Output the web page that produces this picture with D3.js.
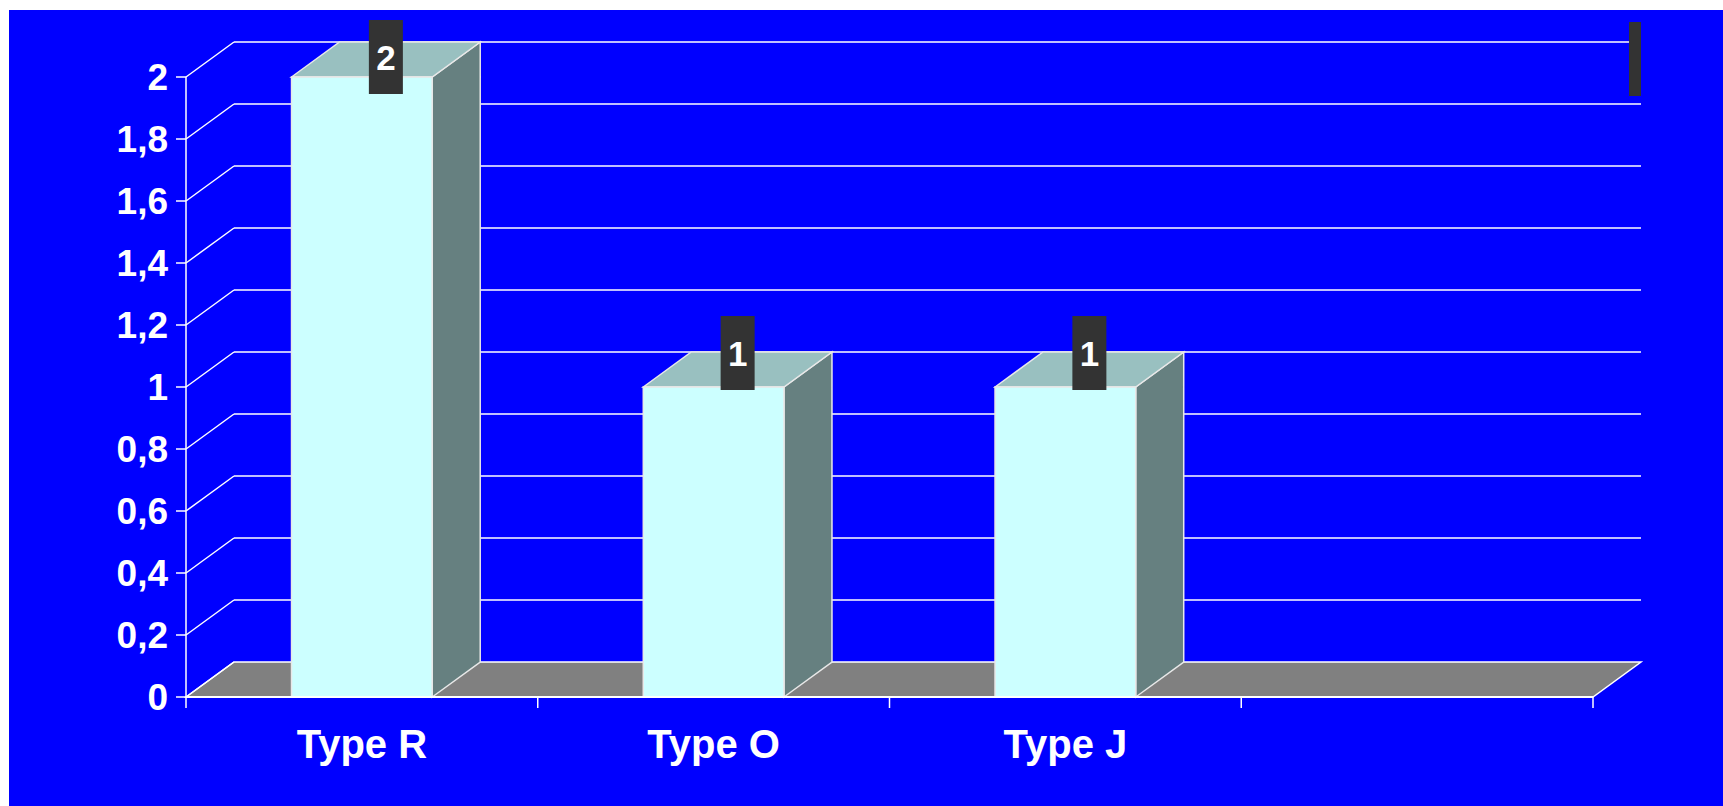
<!DOCTYPE html>
<html>
<head>
<meta charset="utf-8">
<script src="https://cdn.jsdelivr.net/npm/d3@7"></script>
<style>
  html, body { margin: 0; padding: 0; background: #fff; overflow: hidden; }
  text { font-family: "Liberation Sans", Arial, sans-serif; font-weight: bold; fill: #fff; }
</style>
</head>
<body>
<svg id="chart" width="1723" height="806"></svg>
<script>
// chart data
const categories = ["Type R", "Type O", "Type J", ""];
const values = [2, 1, 1, null];
const yTicks = [0, 0.2, 0.4, 0.6, 0.8, 1, 1.2, 1.4, 1.6, 1.8, 2];

const width = 1723, height = 806;
const dx = 48, dy = 35;   // depth offset of the 3d look

const svg = d3.select("#chart");

// blue panel
svg.append("rect").attr("x", 9).attr("y", 10)
    .attr("width", width - 9).attr("height", height - 10)
    .attr("fill", "#0000ff");

const x = d3.scaleBand().domain(categories).range([186, 1593]);
const y = d3.scaleLinear().domain([0, 2]).range([697, 77]);

const locale = d3.formatLocale({ decimal: ",", thousands: " ", grouping: [3], currency: ["", ""] });
const fmt = locale.format("~g");

const x0 = x.range()[0], x1 = x.range()[1];

// floor
svg.append("polygon")
    .attr("points", [[x0, y(0)], [x0 + dx, y(0) - dy], [x1 + dx, y(0) - dy], [x1, y(0)]].join(" "))
    .attr("fill", "#808080").attr("stroke", "#fff").attr("stroke-width", 1.5);

// gridlines on back wall + diagonals on left wall
const grid = svg.append("g");
yTicks.forEach(t => {
    if (t > 0) {
        grid.append("line")
            .attr("x1", x0 + dx).attr("x2", x1 + dx)
            .attr("y1", y(t) - dy).attr("y2", y(t) - dy)
            .attr("stroke", "#fff").attr("stroke-width", 1.5);
    }
    grid.append("line")
        .attr("x1", x0).attr("y1", y(t))
        .attr("x2", x0 + dx).attr("y2", y(t) - dy)
        .attr("stroke", "#fff").attr("stroke-width", 1.5);
});

// y axis
const yAxis = svg.append("g");
yAxis.append("line").attr("x1", x0).attr("x2", x0).attr("y1", y(0)).attr("y2", y(2))
    .attr("stroke", "#fff").attr("stroke-width", 1.5);
yTicks.forEach(t => {
    yAxis.append("line").attr("x1", x0 - 10).attr("x2", x0).attr("y1", y(t)).attr("y2", y(t))
        .attr("stroke", "#fff").attr("stroke-width", 1.5);
    yAxis.append("text").attr("x", 168).attr("y", y(t)).attr("dy", "0.36em")
        .attr("text-anchor", "end").style("font-size", "37px")
        .text(fmt(t));
});

// bars
const bw = x.bandwidth() * 0.4;
const bars = svg.append("g").selectAll("g")
    .data(categories.map((c, i) => ({ c, v: values[i] })).filter(d => d.v != null))
    .join("g");

bars.each(function (d) {
    const g = d3.select(this);
    const bx = x(d.c) + (x.bandwidth() - bw) / 2;
    const top = y(d.v), base = y(0);
    g.append("polygon")   // side
        .attr("points", [[bx + bw, base], [bx + bw + dx, base - dy], [bx + bw + dx, top - dy], [bx + bw, top]].join(" "))
        .attr("fill", "#668080").attr("stroke", "#e8e8e8").attr("stroke-width", 1.5);
    g.append("polygon")   // top
        .attr("points", [[bx, top], [bx + dx, top - dy], [bx + bw + dx, top - dy], [bx + bw, top]].join(" "))
        .attr("fill", "#99c0c0").attr("stroke", "#e8e8e8").attr("stroke-width", 1.5);
    g.append("rect")      // front
        .attr("x", bx).attr("y", top).attr("width", bw).attr("height", base - top)
        .attr("fill", "#ccffff").attr("stroke", "#e8e8e8").attr("stroke-width", 1.5);
});

// front edge of floor + x ticks
svg.append("line").attr("x1", x0).attr("x2", x1).attr("y1", y(0)).attr("y2", y(0))
    .attr("stroke", "#fff").attr("stroke-width", 2);
categories.concat(["end"]).forEach((c, i) => {
    const tx = i < categories.length ? x(c) : x1;
    svg.append("line").attr("x1", tx).attr("x2", tx).attr("y1", y(0)).attr("y2", y(0) + 11)
        .attr("stroke", "#fff").attr("stroke-width", 1.5);
});

// category labels
svg.append("g").selectAll("text")
    .data(categories.filter(c => c))
    .join("text")
    .attr("x", c => x(c) + x.bandwidth() / 2)
    .attr("y", 758)
    .attr("text-anchor", "middle")
    .style("font-size", "40px")
    .text(c => c);

// value labels in dark boxes
bars.each(function (d) {
    const g = d3.select(this);
    const cx = x(d.c) + x.bandwidth() / 2 + dx / 2;
    const boxTop = Math.max(y(d.v) - 71, 20);
    g.append("rect").attr("x", cx - 17).attr("y", boxTop).attr("width", 34).attr("height", 74)
        .attr("fill", "#333333");
    g.append("text").attr("x", cx).attr("y", boxTop + 37).attr("dy", "0.36em")
        .attr("text-anchor", "middle").style("font-size", "35px")
        .text(d.v);
});

// clipped legend box, top right
svg.append("rect").attr("x", 1629).attr("y", 22).attr("width", 12).attr("height", 74)
    .attr("fill", "#333333");
</script>
</body>
</html>
